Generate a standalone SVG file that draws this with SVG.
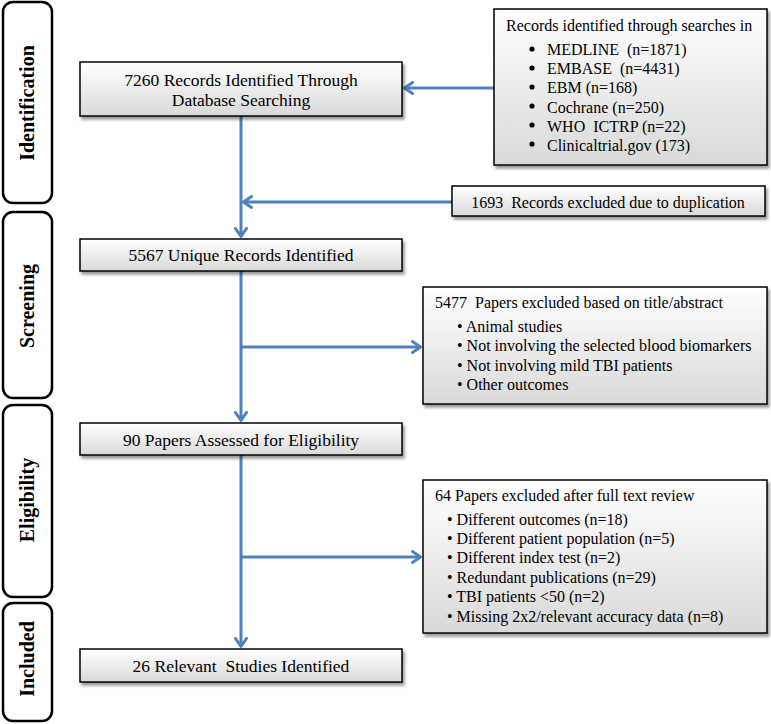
<svg xmlns="http://www.w3.org/2000/svg" width="771" height="724" viewBox="0 0 771 724">
<style>
.phase{fill:#fff;stroke:#000;stroke-width:2.5}
.ph{font-family:"Liberation Serif","Times New Roman",serif;font-weight:bold;font-size:20px;fill:#000;text-anchor:middle}
.box{fill:url(#g);stroke:#000;stroke-width:1.5;filter:url(#sh)}
.t{font-family:"Liberation Serif","Times New Roman",serif;font-size:17.5px;fill:#000;text-anchor:middle}
.s{font-family:"Liberation Serif","Times New Roman",serif;font-size:16px;fill:#000}
.c{fill:none;stroke:#4f81bd;stroke-width:3}
</style>
<defs>
<linearGradient id="g" x1="0" y1="0" x2="0" y2="1">
<stop offset="0" stop-color="#ffffff"/>
<stop offset="1" stop-color="#d9d9d9"/>
</linearGradient>
<filter id="sh" x="-5%" y="-10%" width="115%" height="130%">
<feDropShadow dx="2" dy="3" stdDeviation="1.5" flood-color="#000" flood-opacity="0.4"/>
</filter>
<marker id="a" viewBox="0 0 12 14" refX="10.5" refY="7" markerWidth="12" markerHeight="14" markerUnits="userSpaceOnUse" orient="auto">
<path d="M2,1.5 L10,7 L2,12.5" fill="none" stroke="#4f81bd" stroke-width="3" stroke-linecap="round" stroke-linejoin="round"/>
</marker>
</defs>
<g id="phase-identification"><rect class="phase" x="3" y="2" width="49" height="201" rx="10"/><text class="ph" transform="translate(34,103) rotate(-90)">Identification</text></g>
<g id="phase-screening"><rect class="phase" x="3" y="212" width="49" height="186" rx="10"/><text class="ph" transform="translate(34,306) rotate(-90)">Screening</text></g>
<g id="phase-eligibility"><rect class="phase" x="3" y="405" width="49" height="192" rx="10"/><text class="ph" transform="translate(34,500) rotate(-90)">Eligibility</text></g>
<g id="phase-included"><rect class="phase" x="3" y="603" width="49" height="118" rx="10"/><text class="ph" transform="translate(34,659) rotate(-90)">Included</text></g>
<g id="connectors">
<line class="c" x1="241" y1="116" x2="241" y2="237" marker-end="url(#a)"/>
<line class="c" x1="494" y1="88" x2="404" y2="88" marker-end="url(#a)"/>
<line class="c" x1="452" y1="202" x2="243" y2="202" marker-end="url(#a)"/>
<line class="c" x1="241" y1="271" x2="241" y2="421" marker-end="url(#a)"/>
<line class="c" x1="241" y1="347" x2="421" y2="347" marker-end="url(#a)"/>
<line class="c" x1="241" y1="455" x2="241" y2="647" marker-end="url(#a)"/>
<line class="c" x1="241" y1="557" x2="421" y2="557" marker-end="url(#a)"/>
</g>
<g id="n7260"><rect class="box" x="80" y="62" width="322" height="54"/><text class="t" x="241" y="86">7260 Records Identified Through</text><text class="t" x="241" y="106">Database Searching</text></g>
<g id="sources"><rect class="box" x="494" y="9" width="273" height="156"/>
<text class="s" x="506" y="31">Records identified through searches in</text>
<g fill="#000"><circle cx="532" cy="49" r="2.6"/><circle cx="532" cy="68" r="2.6"/><circle cx="532" cy="87" r="2.6"/><circle cx="532" cy="106" r="2.6"/><circle cx="532" cy="125" r="2.6"/><circle cx="532" cy="144" r="2.6"/></g>
<text class="s" x="547" y="55" xml:space="preserve">MEDLINE  (n=1871)</text>
<text class="s" x="547" y="74" xml:space="preserve">EMBASE  (n=4431)</text>
<text class="s" x="547" y="93">EBM (n=168)</text>
<text class="s" x="547" y="113">Cochrane (n=250)</text>
<text class="s" x="547" y="132" xml:space="preserve">WHO  ICTRP (n=22)</text>
<text class="s" x="547" y="151">Clinicaltrial.gov (173)</text>
</g>
<g id="dup"><rect class="box" x="452" y="186" width="313" height="30"/><text class="s" x="608" y="208" text-anchor="middle" xml:space="preserve">1693  Records excluded due to duplication</text></g>
<g id="n5567"><rect class="box" x="80" y="239" width="322" height="32"/><text class="t" x="241" y="261">5567 Unique Records Identified</text></g>
<g id="excl1"><rect class="box" x="423" y="287" width="344" height="117"/>
<text class="s" x="435" y="308" xml:space="preserve">5477  Papers excluded based on title/abstract</text>
<text class="s" x="457" y="332">• Animal studies</text>
<text class="s" x="457" y="351">• Not involving the selected blood biomarkers</text>
<text class="s" x="457" y="371">• Not involving mild TBI patients</text>
<text class="s" x="457" y="390">• Other outcomes</text>
</g>
<g id="n90"><rect class="box" x="80" y="423" width="322" height="32"/><text class="t" x="241" y="446">90 Papers Assessed for Eligibility</text></g>
<g id="excl2"><rect class="box" x="423" y="480" width="344" height="153"/>
<text class="s" x="435" y="501">64 Papers excluded after full text review</text>
<text class="s" x="447" y="525">• Different outcomes (n=18)</text>
<text class="s" x="447" y="544">• Different patient population (n=5)</text>
<text class="s" x="447" y="563">• Different index test (n=2)</text>
<text class="s" x="447" y="583">• Redundant publications (n=29)</text>
<text class="s" x="447" y="602">• TBI patients &lt;50 (n=2)</text>
<text class="s" x="447" y="622">• Missing 2x2/relevant accuracy data (n=8)</text>
</g>
<g id="n26"><rect class="box" x="80" y="649" width="322" height="33"/><text class="t" x="241" y="672" xml:space="preserve">26 Relevant  Studies Identified</text></g>
</svg>
